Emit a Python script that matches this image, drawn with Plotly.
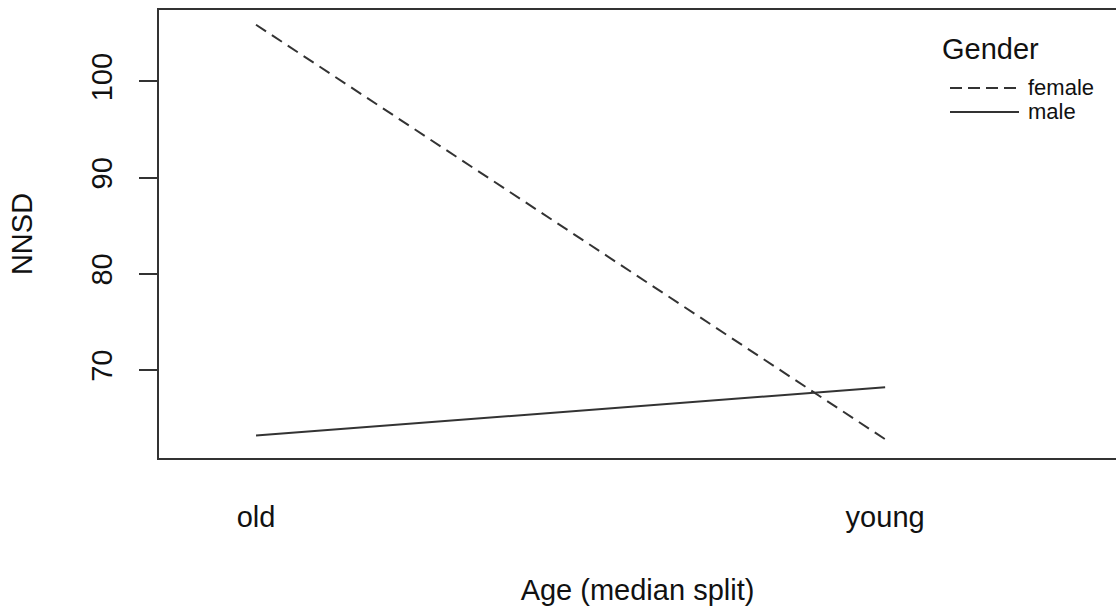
import plotly.graph_objects as go

# Interaction of age group and gender on NNSD
age_groups = ["old", "young"]
female_nnsd = [105.9, 62.8]
male_nnsd = [63.2, 68.2]
y_ticks = [70, 80, 90, 100]

W, H = 1116, 612
L, R, T, B = 159, 0, 10, 154
INK = "#333333"
FONT = "Liberation Sans, Arial, sans-serif"

x_pos = [1, 2]

fig = go.Figure()
fig.add_trace(go.Scatter(
    x=x_pos, y=female_nnsd, mode="lines", name="female",
    line=dict(color=INK, width=2, dash="12px,7px"), showlegend=False,
))
fig.add_trace(go.Scatter(
    x=x_pos, y=male_nnsd, mode="lines", name="male",
    line=dict(color=INK, width=2), showlegend=False,
))

# pixel -> paper helpers for the hand-drawn legend
def px(xp):
    return (xp - L) / (W - L - R)

def py(yp):
    return 1 - (yp - T) / (H - T - B)

legend_items = [("female", "12px,6px", 88), ("male", "solid", 112)]
for label, dash, yy in legend_items:
    fig.add_shape(type="line", xref="paper", yref="paper",
                  x0=px(950), x1=px(1019), y0=py(yy), y1=py(yy),
                  line=dict(color=INK, width=2, dash=dash))
    fig.add_annotation(xref="paper", yref="paper", x=px(1026), y=py(yy),
                       text=label, showarrow=False, xanchor="left", yanchor="middle",
                       font=dict(family=FONT, size=22, color="#111111"))
fig.add_annotation(xref="paper", yref="paper", x=px(940), y=py(49),
                   text="Gender", showarrow=False, xanchor="left", yanchor="middle",
                   font=dict(family=FONT, size=29, color="#111111"))

fig.update_layout(
    width=W, height=H,
    margin=dict(l=L, r=R, t=T, b=B, autoexpand=False),
    paper_bgcolor="white", plot_bgcolor="white",
    font=dict(family=FONT, size=29, color="#111111"),
)
fig.update_xaxes(
    range=[0.8458, 2.367], tickvals=x_pos, ticktext=age_groups,
    ticks="", showgrid=False, zeroline=False,
    showline=True, linecolor=INK, linewidth=2, mirror=True,
    ticklabelstandoff=32,
    title=dict(text="Age (median split)", standoff=48, font=dict(size=29)),
    tickfont=dict(size=29),
)
fig.update_yaxes(
    range=[60.85, 107.43], tickvals=y_ticks, ticktext=[str(v) for v in y_ticks],
    ticks="outside", ticklen=18, tickwidth=2, tickcolor=INK,
    tickangle=-90, ticklabelstandoff=15,
    showgrid=False, zeroline=False,
    showline=True, linecolor=INK, linewidth=2, mirror=False,
    title=dict(text="NNSD", standoff=45, font=dict(size=29)),
    tickfont=dict(size=29),
)

fig.write_html("out.html")
